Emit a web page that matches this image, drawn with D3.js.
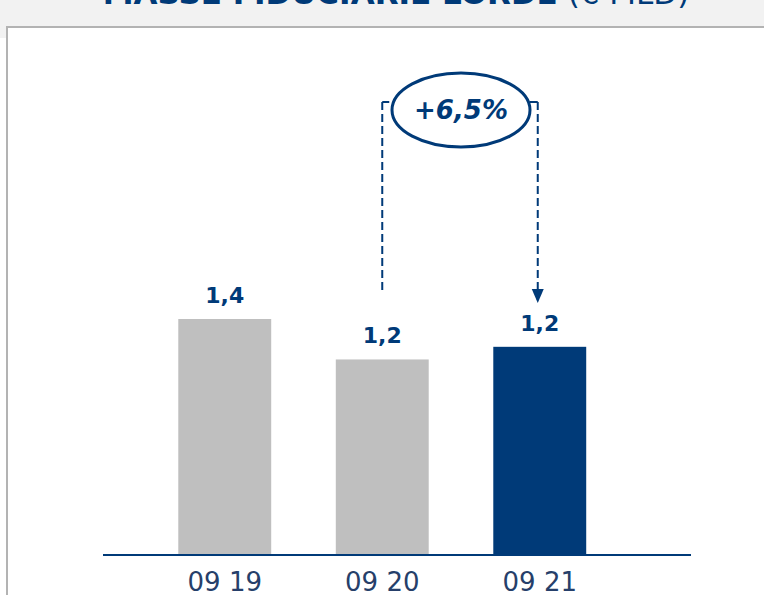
<!DOCTYPE html>
<html>
<head>
<meta charset="utf-8">
<script src="https://cdn.jsdelivr.net/npm/d3@7"></script>
<style>
  html, body { margin: 0; padding: 0; background: #ffffff; }
  svg { display: block; }
</style>
</head>
<body>
<svg id="chart" width="764" height="595"></svg>
<script>
// data
var categories = ['09 19', '09 20', '09 21'];
var values = [1.40, 1.16, 1.235];
var valueLabels = ['1,4', '1,2', '1,2'];
var barColors = ['#bfbfbf', '#bfbfbf', '#003a78'];
var growthLabel = '+6,5%';
var titleMain = 'MASSE FIDUCIARIE LORDE';
var titleUnit = ' (€ MLD)';

var navy = '#003a78',
    font = 'Verdana, "DejaVu Sans", sans-serif';

var svg = d3.select('#chart');

// page background and panel
svg.append('rect').attr('x', 0).attr('y', 0).attr('width', 764).attr('height', 38).attr('fill', '#f2f2f2');
svg.append('path')
    .attr('d', 'M7,595 V27 H764')
    .attr('fill', 'none')
    .attr('stroke', '#b3b3b3')
    .attr('stroke-width', 2);
svg.append('rect').attr('x', 8).attr('y', 28).attr('width', 756).attr('height', 567).attr('fill', '#ffffff');

// title, cut off by the top edge
var title = svg.append('text')
    .attr('x', 396).attr('y', 4)
    .attr('text-anchor', 'middle')
    .attr('font-family', font)
    .attr('font-size', 31)
    .attr('fill', navy);
title.append('tspan').attr('font-weight', 'bold').text(titleMain);
title.append('tspan').attr('font-weight', 'normal').text(titleUnit);

var baseY = 555;

var x = d3.scaleBand()
    .domain(categories)
    .range([146, 618.5])
    .paddingInner(0.41)
    .paddingOuter(0.205);

var y = d3.scaleLinear()
    .domain([0, 1.4])
    .range([baseY, 319]);

var g = svg.append('g');

g.selectAll('rect.bar')
    .data(values)
    .enter().append('rect')
    .attr('class', 'bar')
    .attr('x', function(d, i) { return x(categories[i]); })
    .attr('y', function(d) { return y(d); })
    .attr('width', x.bandwidth())
    .attr('height', function(d) { return baseY - y(d); })
    .attr('fill', function(d, i) { return barColors[i]; });

// baseline
g.append('line')
    .attr('x1', 103).attr('x2', 691)
    .attr('y1', baseY).attr('y2', baseY)
    .attr('stroke', navy)
    .attr('stroke-width', 2);

// value labels
g.selectAll('text.value')
    .data(values)
    .enter().append('text')
    .attr('class', 'value')
    .attr('x', function(d, i) { return x(categories[i]) + x.bandwidth() / 2; })
    .attr('y', function(d) { return y(d) - 16; })
    .attr('text-anchor', 'middle')
    .attr('font-family', font)
    .attr('font-weight', 'bold')
    .attr('font-size', 22)
    .attr('fill', navy)
    .text(function(d, i) { return valueLabels[i]; });

// category labels
g.selectAll('text.cat')
    .data(categories)
    .enter().append('text')
    .attr('class', 'cat')
    .attr('x', function(d) { return x(d) + x.bandwidth() / 2; })
    .attr('y', 591)
    .attr('text-anchor', 'middle')
    .attr('font-family', font)
    .attr('font-size', 26)
    .attr('fill', '#263f6a')
    .text(function(d) { return d; });

// growth annotation between the last two bars
var xa = x(categories[1]) + x.bandwidth() / 2,
    xb = x(categories[2]) + x.bandwidth() / 2 - 2,
    topY = 102;

var ann = svg.append('g')
    .attr('fill', 'none')
    .attr('stroke', navy)
    .attr('stroke-width', 2);

ann.append('line')
    .attr('x1', xa).attr('x2', xa)
    .attr('y1', topY).attr('y2', 293)
    .attr('stroke-dasharray', '8,4');
ann.append('line')
    .attr('x1', xa).attr('x2', xa + 7)
    .attr('y1', topY).attr('y2', topY);
ann.append('line')
    .attr('x1', xb - 8).attr('x2', xb)
    .attr('y1', topY).attr('y2', topY);
ann.append('line')
    .attr('x1', xb).attr('x2', xb)
    .attr('y1', topY).attr('y2', 300)
    .attr('stroke-dasharray', '8,4');
ann.append('path')
    .attr('d', 'M' + (xb - 6) + ',289 L' + (xb + 6) + ',289 L' + xb + ',303 Z')
    .attr('fill', navy)
    .attr('stroke', 'none');

var cx = (xa + xb) / 2 + 1;
ann.append('ellipse')
    .attr('cx', cx).attr('cy', 110)
    .attr('rx', 69).attr('ry', 37)
    .attr('fill', '#ffffff')
    .attr('stroke-width', 3);

svg.append('text')
    .attr('x', cx).attr('y', 119)
    .attr('text-anchor', 'middle')
    .attr('font-family', font)
    .attr('font-weight', 'bold')
    .attr('font-style', 'italic')
    .attr('font-size', 26)
    .attr('fill', navy)
    .text(growthLabel);
</script>
</body>
</html>
